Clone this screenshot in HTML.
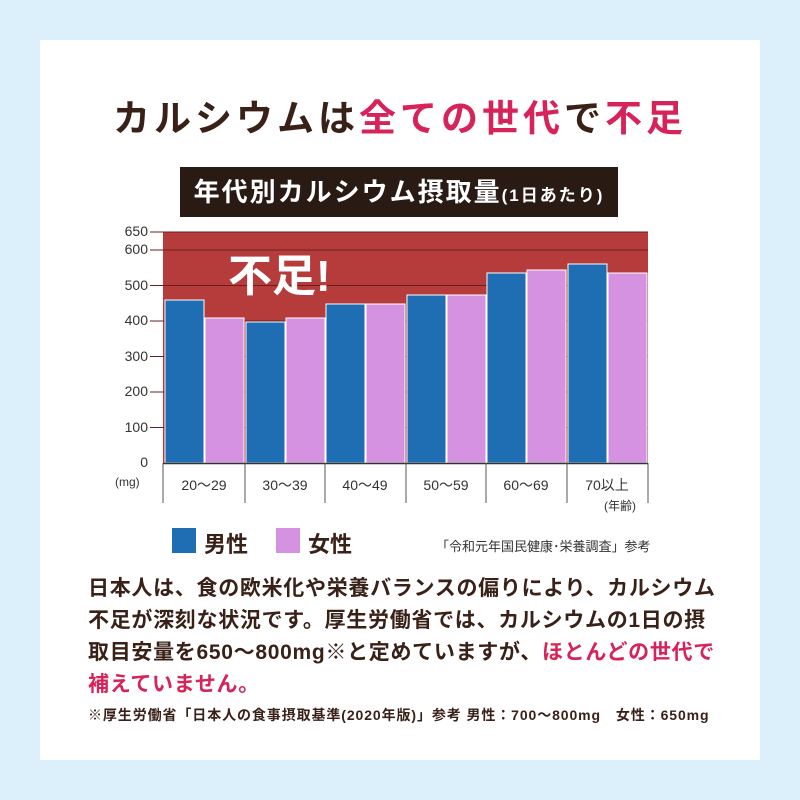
<!DOCTYPE html>
<html><head><meta charset="utf-8"><style>
body{margin:0;width:800px;height:800px;background:#dcf0fb;position:relative;overflow:hidden;font-family:"Liberation Sans","Noto Sans CJK JP",sans-serif;color:#3a2118}
.p{position:absolute;left:40px;top:40px;width:720px;height:720px;background:#fff}
.a{position:absolute;white-space:nowrap}
.t{left:0;width:800px;text-align:center;top:88px;font-size:37px;font-weight:bold;letter-spacing:4px}
.r{color:#d6245a}
.ban{left:180px;top:167px;width:438px;height:50px;background:#2a1a14;color:#fff;font-size:26px;font-weight:bold;line-height:50px;text-align:center;letter-spacing:2px}
.yl{font-size:14px;color:#333;width:40px;text-align:right;left:108px}
.xl{font-size:14px;color:#333;text-align:center;width:80px;top:475px}
.body{left:88px;font-size:21px;font-weight:bold;letter-spacing:0.7px}
</style></head><body>
<div class="p"></div>
<div class="a t">カルシウムは<span class="r">全ての世代</span>で<span class="r">不足</span></div>
<div class="a ban">年代別カルシウム摂取量<span style="font-size:17px">(1日あたり)</span></div>
<svg class="a" style="left:0;top:0" width="800" height="800">
<rect x="163" y="232" width="485" height="231" fill="#b63b3b"/>
<g stroke="#6a1f1f" stroke-width="1">
<line x1="150" y1="232" x2="648" y2="232"/><line x1="150" y1="250" x2="648" y2="250"/><line x1="150" y1="285.5" x2="648" y2="285.5"/><line x1="150" y1="321" x2="648" y2="321"/><line x1="150" y1="356.5" x2="648" y2="356.5"/><line x1="150" y1="392" x2="648" y2="392"/><line x1="150" y1="427.5" x2="648" y2="427.5"/>
</g>
<g stroke="#fff" stroke-width="1">
<rect x="165" y="300" width="39" height="163" fill="#1f6db3"/><rect x="205" y="318" width="39" height="145" fill="#d592e0"/>
<rect x="246" y="322" width="39" height="141" fill="#1f6db3"/><rect x="286" y="318" width="39" height="145" fill="#d592e0"/>
<rect x="326" y="304" width="39" height="159" fill="#1f6db3"/><rect x="366" y="304" width="39" height="159" fill="#d592e0"/>
<rect x="407" y="295" width="39" height="168" fill="#1f6db3"/><rect x="447" y="295" width="39" height="168" fill="#d592e0"/>
<rect x="487" y="273" width="39" height="190" fill="#1f6db3"/><rect x="527" y="270" width="39" height="193" fill="#d592e0"/>
<rect x="568" y="264" width="39" height="199" fill="#1f6db3"/><rect x="608" y="273" width="39" height="190" fill="#d592e0"/>
</g>
<line x1="163" y1="463.5" x2="648" y2="463.5" stroke="#333" stroke-width="1.5"/>
<g stroke="#555" stroke-width="1">
<line x1="163" y1="463" x2="163" y2="503"/><line x1="245" y1="463" x2="245" y2="503"/><line x1="325" y1="463" x2="325" y2="503"/><line x1="406" y1="463" x2="406" y2="503"/><line x1="486" y1="463" x2="486" y2="503"/><line x1="567" y1="463" x2="567" y2="503"/><line x1="648" y1="463" x2="648" y2="503"/>
</g>
<rect x="172" y="528" width="24" height="25" fill="#1f6db3"/>
<rect x="276" y="528" width="24" height="25" fill="#d592e0"/>
</svg>
<div class="a" style="left:228px;top:240px;font-size:44px;font-weight:bold;color:#fff">不足!</div>
<div class="a yl" style="top:223px">650</div>
<div class="a yl" style="top:241px">600</div>
<div class="a yl" style="top:277px">500</div>
<div class="a yl" style="top:312px">400</div>
<div class="a yl" style="top:348px">300</div>
<div class="a yl" style="top:383px">200</div>
<div class="a yl" style="top:419px">100</div>
<div class="a yl" style="top:454px">0</div>
<div class="a" style="left:115px;top:475px;font-size:12px;color:#333">(mg)</div>
<div class="a xl" style="left:164px">20～29</div>
<div class="a xl" style="left:245px">30～39</div>
<div class="a xl" style="left:325px">40～49</div>
<div class="a xl" style="left:406px">50～59</div>
<div class="a xl" style="left:486px">60～69</div>
<div class="a xl" style="left:567px">70以上</div>
<div class="a" style="left:604px;top:497px;font-size:12px;color:#333">(年齢)</div>
<div class="a" style="left:204px;top:527px;font-size:22px;font-weight:bold">男性</div>
<div class="a" style="left:308px;top:527px;font-size:22px;font-weight:bold">女性</div>
<div class="a" style="left:436px;top:536px;font-size:13px;color:#333">「令和元年国民健康･栄養調査」参考</div>
<div class="a body" style="top:572px">日本人は、食の欧米化や栄養バランスの偏りにより、カルシウム</div>
<div class="a body" style="top:604px">不足が深刻な状況です。厚生労働省では、カルシウムの1日の摂</div>
<div class="a body" style="top:636px">取目安量を650～800mg※と定めていますが、<span class="r">ほとんどの世代で</span></div>
<div class="a body r" style="top:668px">補えていません。</div>
<div class="a" style="left:88px;top:705px;font-size:14px;font-weight:bold;letter-spacing:0.9px">※厚生労働省「日本人の食事摂取基準(2020年版)」参考 男性：700～800mg　女性：650mg</div>
</body></html>
